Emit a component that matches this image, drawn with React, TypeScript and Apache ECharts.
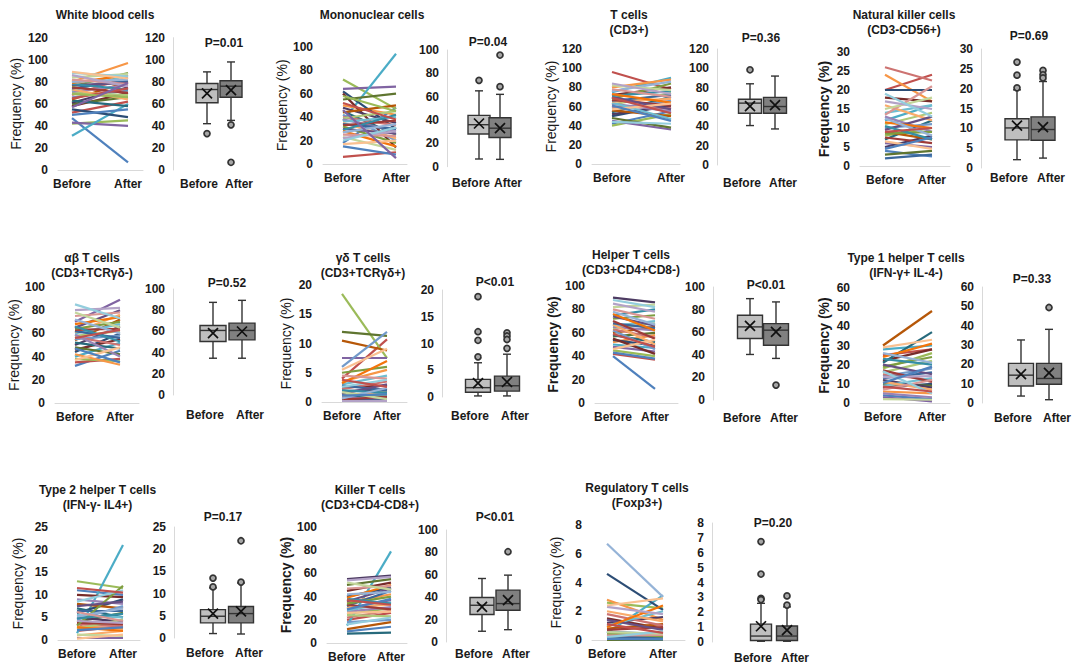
import React, { useEffect, useRef } from 'react';
import * as echarts from 'echarts';

// Colours for the individual paired lines (cycled by subject index)
const lineColors = [
  '#4F81BD', '#C0504D', '#9BBB59', '#8064A2', '#4BACC6', '#F79646',
  '#2C4D75', '#772C2A', '#5F7530', '#4D3B62', '#276A7C', '#B65708',
  '#729ACA', '#CD7371', '#AFC97A', '#9983B5', '#6FBDD1', '#F9AB6B',
  '#3A679C', '#9F3B38', '#7E9D40', '#664F83', '#358EA6', '#F3740B',
  '#95B3D7', '#D99694', '#C3D69B', '#B3A2C7', '#93CDDD', '#FAC090',
];

const groups = ['Before', 'After'];

// ---- White blood cells ----
const wbcBefore = [47, 52, 42, 43, 31, 80, 55, 58, 60, 61, 63, 64, 66, 68, 70, 71, 72, 73, 74, 75, 76, 77, 78, 79, 80, 82, 84, 86, 88, 89, 50, 65, 69, 57];
const wbcAfter = [7, 62, 45, 40, 60, 97, 48, 70, 66, 75, 58, 80, 72, 84, 68, 77, 86, 64, 81, 70, 88, 79, 73, 86, 82, 78, 87, 76, 85, 83, 55, 74, 66, 79];
const wbcBox = [[42, 61, 73, 78.5, 89], [45, 66, 76, 81, 98]]; // min, Q1, median, Q3, max
const wbcMean = [69.5, 72.5];
const wbcOutliers = [[0, 33], [1, 41], [1, 7]];

// ---- Mononuclear cells ----
const monoBefore = [18, 6, 72, 64, 37, 50, 62, 60, 55, 48, 45, 44, 42, 40, 39, 38, 36, 35, 34, 33, 32, 30, 29, 28, 27, 25, 23, 22, 20, 17, 15, 52, 58, 46];
const monoAfter = [48, 10, 47, 66, 94, 42, 30, 14, 60, 35, 25, 50, 20, 33, 45, 28, 40, 22, 30, 37, 18, 26, 42, 15, 34, 24, 12, 28, 31, 20, 8, 38, 45, 5];
const monoBox = [[6.6, 28, 36, 44, 65], [6.3, 25, 33, 42, 62]];
const monoMean = [37, 33];
const monoOutliers = [[0, 74], [1, 68.6], [1, 95.7]];

// ---- T cells (CD3+) ----
const tBefore = [42, 96, 40, 45, 75, 80, 50, 72, 48, 52, 54, 56, 58, 60, 62, 63, 64, 65, 66, 67, 68, 70, 71, 73, 76, 78, 82, 84, 44, 57, 61, 69];
const tAfter = [55, 78, 52, 36, 90, 88, 62, 80, 38, 60, 70, 50, 66, 58, 74, 55, 47, 68, 72, 61, 84, 57, 76, 64, 86, 70, 77, 73, 42, 63, 45, 53];
const tBox = [[40.8, 53.6, 64, 68, 84], [37.3, 53.6, 60.5, 70, 92]];
const tMean = [61, 62];
const tOutliers = [[0, 98.5]];

// ---- Natural killer cells (CD3-CD56+) ----
const nkBefore = [4, 20, 8, 6, 12, 24, 20, 18, 3, 5, 7, 9, 10, 26, 11, 13, 14, 16, 2, 7.5, 8.5, 9.5, 10.5, 11.5, 12.5, 13.5, 15, 17, 19, 6.5, 4.5, 9];
const nkAfter = [2.5, 24, 10, 5, 16, 17, 20, 17, 4, 8, 12, 7, 11, 22.5, 14, 9, 16, 12, 3, 6, 9, 13, 7, 10, 8, 21, 18, 15, 13, 4.5, 7.5, 10];
const nkBox = [[2.1, 7.1, 10.1, 12.4, 19.7], [2.5, 7.0, 9.7, 12.9, 21.8]];
const nkMean = [10.7, 10.3];
const nkOutliers = [[0, 26.7], [0, 23.4], [0, 20.2], [1, 24.6], [1, 23.5], [1, 22.7]];

// ---- αβ T cells (CD3+TCRγδ-) ----
const abBefore = [32, 35, 38, 70, 40, 42, 44, 46, 48, 50, 52, 54, 55, 57, 58, 59, 60, 61, 62, 63, 64, 65, 66, 68, 72, 75, 78, 80, 85, 37, 47, 56];
const abAfter = [45, 38, 36, 89, 52, 33, 60, 55, 42, 66, 47, 72, 58, 50, 62, 40, 68, 76, 56, 64, 70, 80, 53, 74, 60, 78, 65, 82, 73, 48, 35, 63];
const abBox = [[34.7, 50.5, 60.9, 65.6, 87.4], [34.7, 52, 60.9, 67.8, 89.3]];
const abMean = [58.4, 59.9];
const abOutliers: number[][] = [];

// ---- γδ T cells (CD3+TCRγδ+) ----
const gdBefore = [0.5, 4, 18.5, 7.5, 1.2, 3.5, 0.3, 2.5, 12, 1.8, 0.9, 10.5, 6, 2.2, 1.5, 0.7, 3, 1, 2.8, 0.4, 5, 1.4, 2, 3.2, 0.6, 4.5, 1.7, 0.2, 2.6, 5.5, 1.1, 3.8];
const gdAfter = [0.8, 10.7, 7.5, 7.5, 1.5, 5.5, 0.4, 2.8, 11.3, 2.2, 1.1, 8.8, 12, 3.5, 1.2, 0.6, 4.5, 1.9, 2, 0.9, 6, 3, 1.6, 7, 2.4, 4, 0.5, 0.2, 3.8, 9.1, 1.3, 2.6];
const gdBox = [[0.2, 0.9, 1.75, 3.3, 6.4], [0.2, 1.1, 2.1, 3.9, 8]];
const gdMean = [2.6, 2.8];
const gdOutliers = [[0, 18.75], [0, 12.2], [0, 10.6], [0, 7.5], [1, 12], [1, 11.4], [1, 10.75], [1, 9.1]];

// ---- Helper T cells (CD3+CD4+CD8-) ----
const thBefore = [40, 42, 45, 48, 50, 52, 54, 55, 57, 90, 58, 60, 62, 63, 64, 65, 66, 67, 68, 70, 72, 74, 75, 76, 78, 80, 82, 85, 88, 46, 43, 59];
const thAfter = [12, 37, 40, 44, 47, 58, 49, 42, 60, 86, 52, 65, 46, 56, 68, 62, 70, 50, 64, 55, 75, 66, 80, 62, 67, 72, 84, 78, 82, 54, 38, 48];
const thBox = [[40.3, 54.4, 64.7, 75, 89.7], [36.8, 48.5, 61.8, 67.6, 86.8]];
const thMean = [65.6, 60.3];
const thOutliers = [[1, 13.2]];

// ---- Type 1 helper T cells (IFN-γ+ IL-4-) ----
const th1Before = [4, 25, 18, 3, 28, 6, 8, 22, 10, 12, 21, 30, 14, 15, 16, 5, 9, 11, 13, 17, 19, 20, 23, 24, 26, 7, 2, 13.5, 16.5, 29, 10.5, 8.5];
const th1After = [2, 28, 26, 0.8, 30, 5, 10, 28, 9, 8, 37, 48, 18, 12, 22, 3, 13, 7, 16, 11, 24, 15, 20, 31, 21, 12, 1.7, 14, 5, 33, 19, 6];
const th1Box = [[3.6, 8.8, 14.4, 20.5, 32.6], [1.7, 9.7, 12.7, 20.5, 38.1]];
const th1Mean = [14.9, 15.6];
const th1Outliers = [[1, 49.4]];

// ---- Type 2 helper T cells (IFN-γ- IL4+) ----
const th2Before = [11, 2, 13, 0.5, 1.5, 3, 6, 10, 4, 5, 7, 8, 4.5, 3.5, 2.5, 9, 5.5, 1, 6.5, 3.8, 3.2, 7.5, 4.8, 2.8, 5.2, 6.2, 1.2, 4.2, 8.5, 0.3, 2.2, 11.5];
const th2After = [10, 3, 11.5, 0.5, 21, 2.5, 9, 9.5, 6, 4, 5, 7, 7.5, 3, 4.5, 8, 5, 2, 6.5, 3.5, 12, 8.5, 5.8, 2, 7, 4.2, 0.9, 3.8, 11, 1.2, 2.8, 10.5];
const th2Box = [[1.0, 3.4, 4.9, 6.4, 11.3], [0.9, 3.4, 5.5, 7.1, 12.4]];
const th2Mean = [5.5, 6.0];
const th2Outliers = [[0, 13.5], [0, 11.5], [1, 21.9], [1, 12.6]];

// ---- Killer T cells (CD3+CD4-CD8+) ----
const ktBefore = [10, 20, 25, 30, 15, 35, 40, 45, 50, 55, 8, 12, 18, 22, 24, 27, 28, 31, 32, 33, 34, 36, 38, 39, 42, 47, 52, 54, 16, 26, 29, 37];
const ktAfter = [14, 26, 30, 37, 79, 42, 48, 52, 55, 58, 9, 18, 20, 28, 23, 31, 35, 33, 45, 29, 40, 47, 34, 50, 44, 49, 46, 57, 22, 27, 38, 33];
const ktBox = [[9.6, 24.5, 32.8, 39.7, 56.7], [11, 28.4, 34.3, 46.3, 59.7]];
const ktMean = [31.3, 37.3];
const ktOutliers = [[1, 80.6]];

// ---- Regulatory T cells (Foxp3+) ----
const tregBefore = [0.1, 0.3, 2.6, 0.2, 0.5, 2.8, 4.6, 1.5, 0.05, 1.2, 0.4, 0.8, 0.6, 1.8, 0.15, 0.35, 1.0, 2.0, 0.25, 0.7, 0.45, 1.4, 0.1, 0.9, 6.7, 0.3, 0.55, 2.3, 0.2, 2.4, 0.08, 1.1];
const tregAfter = [0.2, 0.5, 2.2, 0.1, 3.1, 1.4, 2.1, 0.8, 0.05, 1.6, 0.3, 1.1, 0.4, 1.0, 0.6, 0.2, 2.0, 1.3, 0.15, 0.9, 0.25, 0.7, 0.1, 2.4, 3.0, 0.35, 0.45, 1.8, 0.6, 2.9, 0.05, 0.5];
const tregBox = [[0.05, 0.1, 0.4, 1.2, 2.6], [0.05, 0.1, 0.4, 1.08, 2.36]];
const tregMean = [1.06, 0.8];
const tregOutliers = [[0, 6.75], [0, 4.57], [0, 2.93], [0, 2.85], [1, 3.1], [1, 2.48]];

// P values shown above each box plot
const pValues = ['P=0.01', 'P=0.04', 'P=0.36', 'P=0.69', 'P=0.52', 'P<0.01', 'P<0.01', 'P=0.33', 'P=0.17', 'P<0.01', 'P=0.20'];

// Axis ranges: [line max, line step, box max, box step]
const axisRanges = [
  [120, 20, 120, 20], [100, 20, 100, 20], [120, 20, 120, 20], [30, 5, 30, 5],
  [100, 20, 100, 20], [20, 5, 20, 5], [100, 20, 100, 20], [60, 10, 60, 10],
  [25, 5, 25, 5], [100, 20, 100, 20], [8, 2, 8, 1],
];

const titles = [
  ['White blood cells'], ['Mononuclear cells'], ['T cells', '(CD3+)'], ['Natural killer cells', '(CD3-CD56+)'],
  ['αβ T cells', '(CD3+TCRγδ-)'], ['γδ T cells', '(CD3+TCRγδ+)'], ['Helper T cells', '(CD3+CD4+CD8-)'], ['Type 1 helper T cells', '(IFN-γ+ IL-4-)'],
  ['Type 2 helper T cells', '(IFN-γ- IL4+)'], ['Killer T cells', '(CD3+CD4-CD8+)'], ['Regulatory T cells', '(Foxp3+)'],
];

const panelData = [
  [wbcBefore, wbcAfter, wbcBox, wbcMean, wbcOutliers],
  [monoBefore, monoAfter, monoBox, monoMean, monoOutliers],
  [tBefore, tAfter, tBox, tMean, tOutliers],
  [nkBefore, nkAfter, nkBox, nkMean, nkOutliers],
  [abBefore, abAfter, abBox, abMean, abOutliers],
  [gdBefore, gdAfter, gdBox, gdMean, gdOutliers],
  [thBefore, thAfter, thBox, thMean, thOutliers],
  [th1Before, th1After, th1Box, th1Mean, th1Outliers],
  [th2Before, th2After, th2Box, th2Mean, th2Outliers],
  [ktBefore, ktAfter, ktBox, ktMean, ktOutliers],
  [tregBefore, tregAfter, tregBox, tregMean, tregOutliers],
] as any[];

// Layout of each panel (pixels)
// line: [axisX0, axisX1, pointX0, pointX1, y0, yTop]
// box:  [axisX, center0, center1, boxWidth, y0, yTop]
// text: [titleX, titleY, pX, pY, freqGap, boxLabelMargin]
const layouts = [
  { line: [58, 143, 72, 128, 170, 37.7], box: [173, 207, 231, 22, 170, 37.7], text: [105, 15, 224, 43, 35, 8], bold: false },
  { line: [323, 407, 343, 396, 164, 46.7], box: [447, 479, 500, 22, 166.7, 50], text: [372, 15, 488, 42, 30, 10], bold: false },
  { line: [592, 680, 612, 671, 164, 49], box: [717, 750, 775, 23, 165, 49], text: [629, 15, 761, 38, 34, 12], bold: false },
  { line: [860, 950, 885, 932, 166, 52], box: [981, 1017, 1043, 24, 168, 49], text: [904, 15, 1029, 36, 29, 4], bold: true },
  { line: [55, 139, 75, 120, 403, 287], box: [173, 213, 242, 26, 395, 289], text: [92, 258, 227, 283, 32, 14], bold: false },
  { line: [322, 407, 342, 387, 402, 285], box: [442, 478, 507, 25, 397, 290], text: [363, 258, 495, 282, 29, 13], bold: false },
  { line: [595, 678, 613, 655, 403, 286], box: [713, 750, 776, 25, 400, 287], text: [631, 255, 766, 285, 35, 12], bold: true },
  { line: [860, 950, 883, 932, 403, 288], box: [982, 1021, 1049, 25, 403, 287], text: [906, 258, 1032, 279, 29, 9], bold: true },
  { line: [58, 140, 77, 123, 640, 527], box: [174, 213, 241, 25, 638, 527], text: [97.5, 490, 223, 517, 33, 9], bold: false },
  { line: [327, 407, 347, 391, 643, 527], box: [446, 482, 508, 24, 642, 530], text: [370, 490, 495, 517, 34, 6], bold: true },
  { line: [592, 685, 607, 663, 640, 525], box: [712, 761, 787, 21, 642, 523], text: [637, 488, 773, 523, 29, 10], bold: false },
];

const FONT = '"Liberation Sans", Arial, Helvetica, sans-serif';
const TEXT = '#1a1a1a';
const STROKE = '#333333';
const boxFills = ['#bfbfbf', '#808080'];

function buildOption() {
  const grid: any[] = [];
  const xAxis: any[] = [];
  const yAxis: any[] = [];
  const series: any[] = [];
  const graphic: any[] = [];
  const tickLabel = { color: TEXT, fontFamily: FONT, fontWeight: 'bold', fontSize: 12 };

  layouts.forEach((lay, i) => {
    const [before, after, box, mean, outliers] = panelData[i];
    const [lineMax, lineStep, boxMax, boxStep] = axisRanges[i];
    const [lx0, lx1, px0, px1, ly0, lyTop] = lay.line;
    const [bAxisX, c0, c1, bw, by0, byTop] = lay.box;
    const [tx, ty, ppx, ppy, freqGap, boxLabelMargin] = lay.text;

    // paired line plot
    const gl = grid.length;
    grid.push({ left: lx0, top: lyTop, width: lx1 - lx0, height: ly0 - lyTop, containLabel: false, outerBoundsMode: 'none' });
    const span = px1 - px0;
    xAxis.push({
      gridIndex: gl, type: 'value',
      min: -(px0 - lx0) / span, max: 1 + (lx1 - px1) / span,
      axisLine: { show: true, lineStyle: { color: '#d9d9d9', width: 1 } },
      axisTick: { show: false }, splitLine: { show: false },
      axisLabel: { ...tickLabel, customValues: [0, 1], margin: 8, formatter: (v: number) => groups[Math.round(v)] },
    });
    yAxis.push({
      gridIndex: gl, type: 'value', min: 0, max: lineMax, interval: lineStep,
      axisLine: { show: false }, axisTick: { show: false }, splitLine: { show: false },
      axisLabel: { ...tickLabel, margin: 10 },
      name: 'Frequency (%)', nameLocation: 'middle', nameRotate: 90, nameGap: freqGap,
      nameTextStyle: { color: TEXT, fontFamily: FONT, fontSize: 14, fontWeight: lay.bold ? 'bold' : 'normal' },
    });
    series.push({
      type: 'lines', coordinateSystem: 'cartesian2d', xAxisIndex: gl, yAxisIndex: gl,
      silent: true, polyline: false,
      lineStyle: { width: 2.2, opacity: 1 },
      data: before.map((b: number, k: number) => ({
        coords: [[0, b], [1, after[k]]],
        lineStyle: { color: lineColors[k % lineColors.length], width: 2.2, opacity: 1 },
      })),
    });

    // box plot
    const gb = grid.length;
    const d = c1 - c0;
    const gLeft = c0 - d / 2;
    grid.push({ left: gLeft, top: byTop, width: 2 * d, height: by0 - byTop, containLabel: false, outerBoundsMode: 'none' });
    xAxis.push({
      gridIndex: gb, type: 'category', data: groups, boundaryGap: true,
      axisLine: { show: false }, axisTick: { show: false }, splitLine: { show: false },
      axisLabel: {
        ...tickLabel, interval: 0, margin: boxLabelMargin,
        formatter: (v: string) => (v === 'Before' ? '{b|Before}' : '{a|After}'),
        rich: {
          b: { ...tickLabel, padding: [0, 16, 0, 0] },
          a: { ...tickLabel, padding: [0, 0, 0, 16] },
        },
      },
    });
    yAxis.push({
      gridIndex: gb, type: 'value', min: 0, max: boxMax, interval: boxStep,
      offset: gLeft - bAxisX,
      axisLine: { show: true, lineStyle: { color: '#d9d9d9', width: 1 } },
      axisTick: { show: false }, splitLine: { show: false },
      axisLabel: { ...tickLabel, margin: 8 },
    });
    series.push({
      type: 'custom', coordinateSystem: 'cartesian2d', xAxisIndex: gb, yAxisIndex: gb,
      silent: true, z: 2,
      data: box.map((s: number[], k: number) => [k, ...s]),
      encode: { x: 0, y: [1, 2, 3, 4, 5] },
      renderItem: (_params: any, api: any) => {
        const k = api.value(0);
        const ys = [1, 2, 3, 4, 5].map((j) => api.coord([k, api.value(j)])[1]);
        const cx = api.coord([k, api.value(3)])[0];
        const hw = bw / 2;
        const cap = 4;
        const st = { stroke: STROKE, lineWidth: 1.4, fill: 'none' };
        return {
          type: 'group',
          children: [
            { type: 'line', shape: { x1: cx, y1: ys[4], x2: cx, y2: ys[3] }, style: st },
            { type: 'line', shape: { x1: cx, y1: ys[1], x2: cx, y2: ys[0] }, style: st },
            { type: 'line', shape: { x1: cx - cap, y1: ys[4], x2: cx + cap, y2: ys[4] }, style: st },
            { type: 'line', shape: { x1: cx - cap, y1: ys[0], x2: cx + cap, y2: ys[0] }, style: st },
            { type: 'rect', shape: { x: cx - hw, y: ys[3], width: 2 * hw, height: ys[1] - ys[3] }, style: { fill: boxFills[k], stroke: STROKE, lineWidth: 1.4 } },
            { type: 'line', shape: { x1: cx - hw, y1: ys[2], x2: cx + hw, y2: ys[2] }, style: st },
          ],
        };
      },
    });
    series.push({
      type: 'scatter', xAxisIndex: gb, yAxisIndex: gb, silent: true, z: 3,
      symbol: 'circle', symbolSize: 6,
      itemStyle: { color: '#a6a6a6', borderColor: '#333', borderWidth: 1.7, opacity: 1 },
      data: outliers,
    });
    series.push({
      type: 'scatter', xAxisIndex: gb, yAxisIndex: gb, silent: true, z: 4,
      symbol: 'path://M0,0L10,10M10,0L0,10', symbolSize: 10,
      itemStyle: { color: 'rgba(0,0,0,0)', borderColor: '#111', borderWidth: 1.7, opacity: 1 },
      data: mean.map((m: number, k: number) => [k, m]),
    });

    // titles and P value
    titles[i].forEach((line, li) => {
      graphic.push({
        type: 'text', x: tx, y: ty + li * 15, silent: true,
        style: { text: line, align: 'center', verticalAlign: 'middle', fill: TEXT, font: `bold 12px ${FONT}` },
      });
    });
    graphic.push({
      type: 'text', x: ppx, y: ppy, silent: true,
      style: { text: pValues[i], align: 'center', verticalAlign: 'middle', fill: TEXT, font: `bold 12px ${FONT}` },
    });
  });

  return {
    animation: false,
    backgroundColor: '#ffffff',
    textStyle: { fontFamily: FONT },
    grid, xAxis, yAxis, series, graphic,
  };
}

export default function App() {
  const ref = useRef<HTMLDivElement>(null);
  useEffect(() => {
    document.body.style.margin = '0';
    if (!ref.current) return;
    const chart = echarts.init(ref.current, undefined, { renderer: 'svg' });
    chart.setOption(buildOption() as any);
    return () => chart.dispose();
  }, []);
  return <div ref={ref} style={{ width: 1080, height: 672 }} />;
}
